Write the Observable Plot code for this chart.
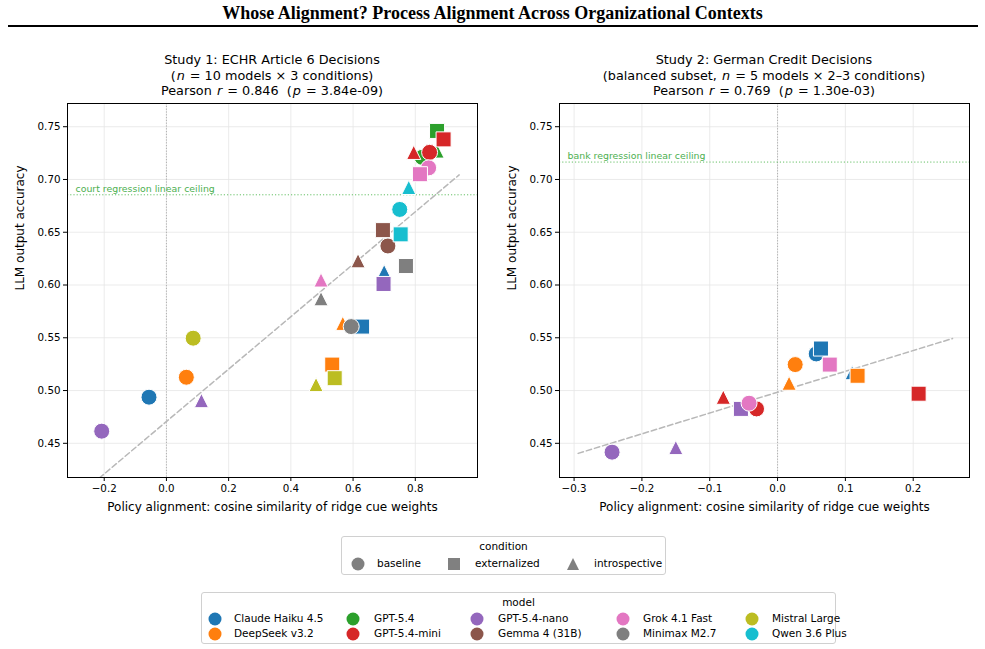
<!DOCTYPE html>
<html><head><meta charset="utf-8">
<script src="https://cdn.jsdelivr.net/npm/d3@7"></script>
<script src="https://cdn.jsdelivr.net/npm/@observablehq/plot@0.6"></script>
<style>
body{margin:0;background:#fff;font-family:"DejaVu Sans",sans-serif;color:#000;}
#root{position:relative;width:985px;height:649px;overflow:hidden;background:#fff;}
.abs{position:absolute;}
#title{left:0;width:985px;top:3px;text-align:center;font-family:"Liberation Serif",serif;font-weight:bold;font-size:18px;}
#rule{left:8px;width:970px;top:25px;height:2px;background:#000;}
.pline{width:490px;text-align:center;font-size:12.8px;line-height:15px;white-space:pre;z-index:2;}
.pline span{display:inline-block;}
.legend{border:1px solid #d0d0d0;border-radius:3px;background:#fff;font-size:10.5px;}
.legend .lt{position:absolute;width:100%;text-align:center;}
.legend .it{position:absolute;white-space:nowrap;}
.legend svg{position:absolute;overflow:visible;}
</style></head><body><div id="root"></div>
<script>
// ---- data ----
const models = ["Claude Haiku 4.5","DeepSeek v3.2","GPT-5.4","GPT-5.4-mini","GPT-5.4-nano","Gemma 4 (31B)","Grok 4.1 Fast","Minimax M2.7","Mistral Large","Qwen 3.6 Plus"];
const modelColors = ["#1f77b4","#ff7f0e","#2ca02c","#d62728","#9467bd","#8c564b","#e377c2","#7f7f7f","#bcbd22","#17becf"];
const conditions = ["baseline","externalized","introspective"];

// Study 1 (ECHR): per model, values for baseline / externalized / introspective
const s1Model = models.flatMap(m => [m, m, m]);
const s1Cond  = models.flatMap(() => conditions);
const s1X = [-0.056, 0.629, 0.700,
              0.064, 0.533, 0.567,
              0.822, 0.870, 0.870,
              0.846, 0.891, 0.795,
             -0.208, 0.698, 0.1125,
              0.712, 0.696, 0.616,
              0.843, 0.815, 0.497,
              0.594, 0.770, 0.497,
              0.086, 0.541, 0.481,
              0.750, 0.753, 0.779];
const s1Y = [0.4937, 0.5606, 0.6127,
             0.5126, 0.5246, 0.5637,
             0.721, 0.746, 0.727,
             0.7257, 0.738, 0.7257,
             0.4615, 0.601, 0.4905,
             0.637, 0.652, 0.623,
             0.711, 0.705, 0.6048,
             0.5606, 0.618, 0.587,
             0.5496, 0.5117, 0.5057,
             0.6716, 0.648, 0.6925];

// Study 2 (German Credit, balanced subset)
const s2Model = ["Claude Haiku 4.5","Claude Haiku 4.5","Claude Haiku 4.5",
                 "DeepSeek v3.2","DeepSeek v3.2","DeepSeek v3.2",
                 "GPT-5.4-mini","GPT-5.4-mini","GPT-5.4-mini",
                 "GPT-5.4-nano","GPT-5.4-nano","GPT-5.4-nano",
                 "Grok 4.1 Fast","Grok 4.1 Fast"];
const s2Cond = ["baseline","externalized","introspective",
                "baseline","externalized","introspective",
                "baseline","externalized","introspective",
                "baseline","externalized","introspective",
                "baseline","externalized"];
const s2X = [0.057, 0.064, 0.110,
             0.026, 0.118, 0.017,
            -0.031, 0.208, -0.080,
            -0.244, -0.054, -0.150,
            -0.042, 0.077];
const s2Y = [0.5347, 0.5398, 0.517,
             0.5246, 0.514, 0.507,
             0.4826, 0.497, 0.4937,
             0.4416, 0.4826, 0.446,
             0.488, 0.5246];

const yTicks = [0.45, 0.50, 0.55, 0.60, 0.65, 0.70, 0.75];
const s1XTicks = [-0.2, 0.0, 0.2, 0.4, 0.6, 0.8];
const s2XTicks = [-0.3, -0.2, -0.1, 0.0, 0.1, 0.2];
const s1Ceiling = 0.6855, s2Ceiling = 0.7165;
const s1CeilLabel = "court regression linear ceiling";
const s2CeilLabel = "bank regression linear ceiling";
const xLabel = "Policy alignment: cosine similarity of ridge cue weights";
const yLabel = "LLM output accuracy";
// panel titles: [text, italic?] segments per line
const s1Title = [
  [["Study 1: ECHR Article 6 Decisions", false]],
  [["(", false], ["n", true], [" = 10 models × 3 conditions)", false]],
  [["Pearson ", false], ["r", true], [" = 0.846  (", false], ["p", true], [" = 3.84e-09)", false]]
];
const s2Title = [
  [["Study 2: German Credit Decisions", false]],
  [["(balanced subset, ", false], ["n", true], [" = 5 models × 2–3 conditions)", false]],
  [["Pearson ", false], ["r", true], [" = 0.769  (", false], ["p", true], [" = 1.30e-03)", false]]
];

// ---- symbols (matplotlib-like o, s, ^) ----
const symCircle = {draw(ctx, size){ const r = Math.sqrt(size/Math.PI); ctx.moveTo(r,0); ctx.arc(0,0,r,0,2*Math.PI); ctx.closePath(); }};
const symSquare = {draw(ctx, size){ const h = Math.sqrt(size)*0.53; ctx.moveTo(-h,-h); ctx.lineTo(h,-h); ctx.lineTo(h,h); ctx.lineTo(-h,h); ctx.closePath(); }};
const symTri = {draw(ctx, size){ const h = Math.sqrt(size)*0.5; ctx.moveTo(0,-h); ctx.lineTo(h,h); ctx.lineTo(-h,h); ctx.closePath(); }};

function fitLine(xs, ys){
  const n = xs.length, mx = d3.mean(xs), my = d3.mean(ys);
  let sxy = 0, sxx = 0;
  for (let i = 0; i < n; i++){ sxy += (xs[i]-mx)*(ys[i]-my); sxx += (xs[i]-mx)**2; }
  const b = sxy/sxx, a = my - b*mx;
  const x0 = d3.min(xs) - 0.05, x1 = d3.max(xs) + 0.05;
  return [{x:x0, y:a+b*x0}, {x:x1, y:a+b*x1}];
}

function panel(mods, conds, xs, ys, xDomain, xTicks, ceiling, ceilLabel){
  const data = xs.map((x, i) => ({model: mods[i], cond: conds[i], x, y: ys[i]}));
  const fit = fitLine(xs, ys);
  return Plot.plot({
    width: 490, height: 430,
    marginLeft: 67, marginRight: 13, marginTop: 8, marginBottom: 48,
    style: {fontFamily: "DejaVu Sans", fontSize: "10px", color: "#000", background: "transparent", overflow: "visible"},
    x: {domain: xDomain},
    y: {domain: [0.4176, 0.772]},
    color: {type: "ordinal", domain: models, range: modelColors},
    symbol: {domain: conditions, range: [symCircle, symSquare, symTri]},
    marks: [
      Plot.gridX(xTicks, {stroke: "#e6e6e6", strokeOpacity: 1, strokeWidth: 0.8}),
      Plot.gridY(yTicks, {stroke: "#e6e6e6", strokeOpacity: 1, strokeWidth: 0.8}),
      Plot.ruleX([0], {stroke: "#a0a0a0", strokeDasharray: "1.2,1.6", strokeWidth: 0.8}),
      Plot.ruleY([ceiling], {stroke: "#66c066", strokeDasharray: "1.2,2", strokeWidth: 1}),
      Plot.text([ceilLabel], {text: d => d, x: xDomain[0], y: ceiling, dx: 8, dy: -3, lineAnchor: "bottom", textAnchor: "start", fill: "#4caf50", fontSize: 9.4}),
      Plot.line(fit, {x: "x", y: "y", stroke: "#b8b8b8", strokeWidth: 1.5, strokeDasharray: "5.5,3", clip: true}),
      Plot.dot(data, {x: "x", y: "y", fill: "model", symbol: "cond", r: 8, stroke: "#fff", strokeWidth: 1}),
      Plot.frame({stroke: "#000", strokeWidth: 1}),
      Plot.axisX(xTicks, {tickSize: 4, tickPadding: 3, tickFormat: d3.format(".1f"), label: null, fontSize: 10.3}),
      Plot.axisY(yTicks, {tickSize: 4, tickPadding: 3, tickFormat: d3.format(".2f"), label: null, fontSize: 10.3}),
      Plot.text([xLabel], {text: d => d, frameAnchor: "bottom", dy: 33, fontSize: 12}),
      Plot.text([yLabel], {text: d => d, frameAnchor: "left", dx: -47, rotate: -90, fontSize: 12})
    ]
  });
}

const root = document.getElementById("root");
function div(cls, html, style){ const d = document.createElement("div"); d.className = cls; d.innerHTML = html; Object.assign(d.style, style || {}); root.appendChild(d); return d; }

const p1 = panel(s1Model, s1Cond, s1X, s1Y, [-0.318, 1.0], s1XTicks, s1Ceiling, s1CeilLabel);
p1.style.position = "absolute"; p1.style.left = "0px"; p1.style.top = "95px"; root.appendChild(p1);
const p2 = panel(s2Model, s2Cond, s2X, s2Y, [-0.3215, 0.283], s2XTicks, s2Ceiling, s2CeilLabel);
p2.style.position = "absolute"; p2.style.left = "492px"; p2.style.top = "95px"; root.appendChild(p2);

div("abs", "Whose Alignment? Process Alignment Across Organizational Contexts").id = "title";
div("abs", "").id = "rule";

function titleBlock(lines, left){
  lines.forEach((segs, k) => {
    const html = segs.map(([t, it]) => it ? `<span style="font-style:italic;padding:0 1px">${t}</span>` : `<span>${t}</span>`).join("");
    div("abs pline", html, {left: left + "px", top: (52 + k*15.5) + "px"});
  });
}
titleBlock(s1Title, 27);
titleBlock(s2Title, 519);

// ---- legends ----
const symPath = {
  baseline: '<circle cx="0" cy="0" r="6.5"/>',
  externalized: '<rect x="-6" y="-6" width="12" height="12"/>',
  introspective: '<path d="M0,-6L6,6L-6,6Z"/>'
};
const condLeg = div("abs legend", "", {left: "341px", top: "536px", width: "323px", height: "37px"});
condLeg.innerHTML = '<div class="lt" style="top:3px">condition</div>';
const condPos = [[16, 35], [112, 133], [231, 252]];
conditions.forEach((c, i) => {
  condLeg.innerHTML += `<svg width="1" height="1" style="left:${condPos[i][0]}px;top:27px"><g fill="#808080">${symPath[c]}</g></svg>` +
    `<div class="it" style="left:${condPos[i][1]}px;top:20px">${c}</div>`;
});

const modLeg = div("abs legend", "", {left: "201px", top: "592px", width: "633px", height: "50px"});
modLeg.innerHTML = '<div class="lt" style="top:3px">model</div>';
const colMark = [13, 151, 275, 421, 550];
const colText = [32, 172, 296, 441, 570];
models.forEach((m, i) => {
  const col = Math.floor(i/2), row = i % 2;
  const cy = 26 + row*15;
  modLeg.innerHTML += `<svg width="1" height="1" style="left:${colMark[col]}px;top:${cy}px"><circle r="6.5" fill="${modelColors[i]}"/></svg>` +
    `<div class="it" style="left:${colText[col]}px;top:${cy-7}px">${m}</div>`;
});
</script></body></html>
